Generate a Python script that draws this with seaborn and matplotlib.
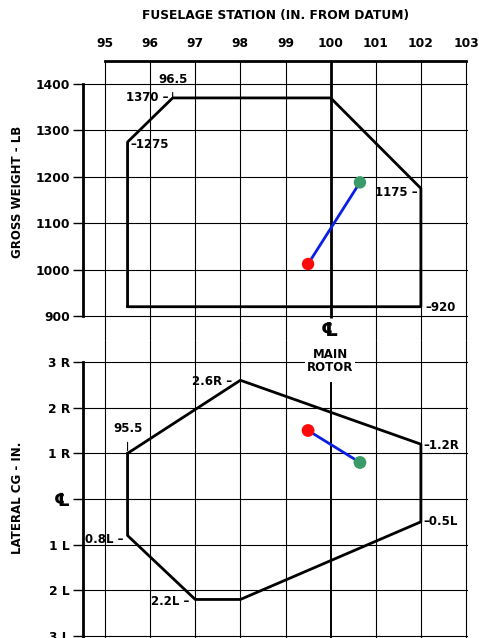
import matplotlib
matplotlib.use('Agg')
import matplotlib.pyplot as plt
import seaborn as sns

# --- Data ---
STATIONS = [95, 96, 97, 98, 99, 100, 101, 102, 103]
WEIGHT_TICKS = [900, 1000, 1100, 1200, 1300, 1400]
LATERAL_TICKS = [3, 2, 1, 0, -1, -2, -3]
LATERAL_LABELS = ['3 R', '2 R', '1 R', '\u2104', '1 L', '2 L', '3 L']

# longitudinal envelope (fuselage station vs gross weight)
long_station = [95.5, 95.5, 96.5, 100, 102, 102, 95.5]
long_weight = [920, 1275, 1370, 1370, 1175, 920, 920]

# lateral envelope (fuselage station vs lateral cg, R positive)
lat_station = [95.5, 98, 102, 102, 98, 97, 95.5, 95.5]
lat_cg = [1.0, 2.6, 1.2, -0.5, -2.2, -2.2, -0.8, 1.0]

# loading points (first = red, second = green)
load_station = [99.5, 100.65]
load_weight = [1012, 1188]
load_lateral = [1.5, 0.8]
load_colors = ['#ff0a0a', '#3a9a68']

# --- Style ---
sns.set_theme(style='white')
plt.rcParams['font.family'] = ['DejaVu Sans']
plt.rcParams['font.weight'] = 'bold'

W, H = 479, 638
fig = plt.figure(figsize=(W / 100, H / 100), dpi=100)

X_LEFT, X_RIGHT = 83, 468
GAP = 340
ax_top = fig.add_axes([X_LEFT / W, 1 - GAP / H, (X_RIGHT - X_LEFT) / W, (GAP - 61) / H])
ax_bot = fig.add_axes([X_LEFT / W, 0, (X_RIGHT - X_LEFT) / W, (H - GAP) / H], sharex=ax_top)
ax_top.set_zorder(2)
ax_top.patch.set_alpha(0)

px_x = 45.125
xlim = (95 - 22 / px_x, 103 + 2 / px_x)
px_w = 0.464
top_ylim = (900 - (GAP - 316) / px_w, 1400 + (84 - 61) / px_w)
px_l = 45.67
bot_ylim = (-3 - 2 / px_l, 3 + (362 - GAP) / px_l)

LW_THICK = 2.0
TICK_FS = 8.8
txt = dict(fontsize=8.5, fontweight='bold', color='black')

for ax in (ax_top, ax_bot):
    ax.set_xlim(*xlim)
    ax.set_xticks(STATIONS)
    ax.grid(True, color='black', lw=0.8)
    for sp in ax.spines.values():
        sp.set_visible(False)
    ax.spines['left'].set_visible(True)
    ax.spines['left'].set_color('black')
    ax.spines['left'].set_linewidth(LW_THICK)
    ax.tick_params(axis='y', left=True, length=7.5, width=1, color='black',
                   labelsize=TICK_FS, pad=2, labelcolor='black')
    # the 100 line is drawn separately (main rotor centre line)
    for g, t in zip(ax.xaxis.get_gridlines(), STATIONS):
        if t == 100:
            g.set_visible(False)
ax_bot.set_facecolor('white')

# --- Top panel: gross weight ---
ax_top.set_ylim(*top_ylim)
ax_top.set_yticks(WEIGHT_TICKS)
ax_top.spines['left'].set_bounds(900, 1400)
ax_top.spines['top'].set_visible(True)
ax_top.spines['top'].set_color('black')
ax_top.spines['top'].set_linewidth(LW_THICK)
ax_top.spines['top'].set_bounds(95, 103)
ax_top.xaxis.tick_top()
ax_top.tick_params(axis='x', top=True, bottom=False, length=0, pad=8,
                   labelsize=TICK_FS, labeltop=True, labelbottom=False, labelcolor='black')
for lab in ax_top.get_xticklabels() + ax_top.get_yticklabels():
    lab.set_fontweight('bold')
ax_top.vlines(100, 896, top_ylim[1], color='black', lw=2.0, zorder=2)

sns.lineplot(x=long_station, y=long_weight, sort=False, estimator=None,
             color='black', lw=LW_THICK, ax=ax_top, zorder=3)
sns.lineplot(x=load_station, y=load_weight, sort=False, estimator=None,
             color='#0a1ee6', lw=2.0, ax=ax_top, zorder=4)
sns.scatterplot(x=load_station, y=load_weight, hue=[0, 1], palette=load_colors,
                s=80, edgecolor='none', legend=False, ax=ax_top, zorder=5)

ann = dict(textcoords='offset pixels', va='center', **txt)
ax_top.annotate('96.5', xy=(96.5, 1370), xytext=(0, 18), ha='center',
                arrowprops=dict(arrowstyle='-', lw=0.8, color='black', shrinkA=2, shrinkB=0), **ann)
ax_top.annotate('1370 \u2013', xy=(96.5, 1370), xytext=(-4, 0), ha='right', **ann)
ax_top.annotate('\u20131275', xy=(95.5, 1275), xytext=(3, -2), ha='left', **ann)
ax_top.annotate('1175 \u2013', xy=(102, 1175), xytext=(-3, -4), ha='right', **ann)
ax_top.annotate('\u2013920', xy=(102, 920), xytext=(5, -1), ha='left', **ann)
ax_top.set_xlabel('')
ax_top.set_ylabel('')

# --- Bottom panel: lateral cg ---
ax_bot.set_ylim(*bot_ylim)
ax_bot.set_yticks(LATERAL_TICKS)
ax_bot.set_yticklabels(LATERAL_LABELS)
for lab in ax_bot.get_yticklabels():
    lab.set_fontweight('bold')
ax_bot.get_yticklabels()[3].set_fontsize(13)
ax_bot.spines['left'].set_bounds(bot_ylim[0], 3)
ax_bot.tick_params(axis='x', bottom=False, top=False, labelbottom=False, labeltop=False)
ax_bot.vlines(100, bot_ylim[0], 2.56, color='black', lw=1.4, zorder=2)

sns.lineplot(x=lat_station, y=lat_cg, sort=False, estimator=None,
             color='black', lw=LW_THICK, ax=ax_bot, zorder=3)
sns.lineplot(x=load_station, y=load_lateral, sort=False, estimator=None,
             color='#0a1ee6', lw=2.0, ax=ax_bot, zorder=4)
sns.scatterplot(x=load_station, y=load_lateral, hue=[0, 1], palette=load_colors,
                s=85, edgecolor='none', legend=False, ax=ax_bot, zorder=5)

ax_bot.annotate('2.6R \u2013', xy=(98, 2.6), xytext=(-8, -1), ha='right', **ann)
ax_bot.annotate('95.5', xy=(95.5, 1.0), xytext=(0, 25), ha='center',
                arrowprops=dict(arrowstyle='-', lw=0.8, color='black', shrinkA=3, shrinkB=2), **ann)
ax_bot.annotate('0.8L \u2013', xy=(95.5, -0.8), xytext=(-4, -4), ha='right', **ann)
ax_bot.annotate('2.2L \u2013', xy=(97, -2.2), xytext=(-6, -2), ha='right', **ann)
ax_bot.annotate('\u20131.2R', xy=(102, 1.2), xytext=(3, -1), ha='left', **ann)
ax_bot.annotate('\u20130.5L', xy=(102, -0.5), xytext=(3, 0), ha='left', **ann)
ax_bot.set_xlabel('')
ax_bot.set_ylabel('')

# main rotor centre line label
fig.text(330 / W, 1 - 331 / H, '\u2104', ha='center', va='center', fontsize=14,
         fontweight='bold', color='black', zorder=6,
         bbox=dict(facecolor='white', edgecolor='none', pad=1))
fig.text(330 / W, 1 - 361 / H, 'MAIN\nROTOR', ha='center', va='center', zorder=6,
         linespacing=1.05, bbox=dict(facecolor='white', edgecolor='none', pad=1.5), **txt)

# titles
fig.text(275 / W, 1 - 16 / H, 'FUSELAGE STATION (IN. FROM DATUM)', ha='center', va='center',
         fontsize=8.8, fontweight='bold', color='black')
fig.text(18 / W, 1 - 192 / H, 'GROSS WEIGHT - LB', rotation=90, ha='center', va='center', **txt)
fig.text(18 / W, 1 - 498 / H, 'LATERAL CG - IN.', rotation=90, ha='center', va='center', **txt)

fig.savefig('out.png', dpi=100, facecolor='white')
